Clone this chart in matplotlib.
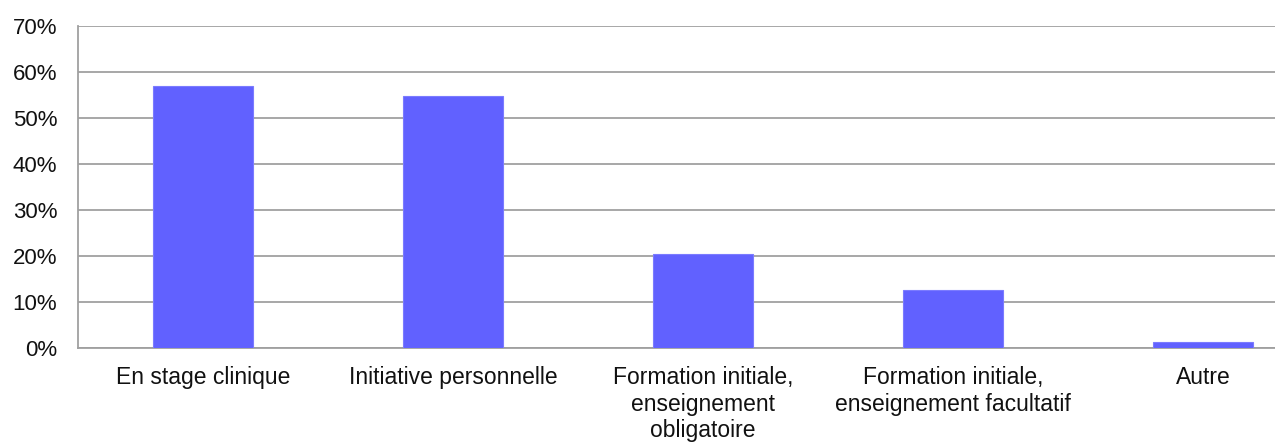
import matplotlib
matplotlib.use("Agg")
import matplotlib.pyplot as plt
from matplotlib.ticker import FuncFormatter

categories = ["En stage clinique", "Initiative personnelle",
              "Formation initiale,\nenseignement\nobligatoire",
              "Formation initiale,\nenseignement facultatif", "Autre"]
values = [57.0, 54.8, 20.4, 12.6, 1.3]
yticks = [0, 10, 20, 30, 40, 50, 60, 70]

plt.rcParams['font.family'] = ['Liberation Sans', 'DejaVu Sans']

fig = plt.figure(figsize=(12.75, 4.43), dpi=100)
ax = fig.add_axes([78/1275, 1-348/443, 1-78/1275, (348-26)/443])

x = list(range(len(categories)))
ax.bar(x, values, width=0.4, color='#6161ff', edgecolor='#7b7bff', linewidth=0.8, zorder=3)

ax.set_ylim(0, 70)
ax.set_xlim(-0.5, (1275-78)/250 - 0.5)
ax.set_yticks(yticks)
ax.yaxis.set_major_formatter(FuncFormatter(lambda v, p: f"{int(v)}%"))
ax.grid(axis='y', color='#a0a0a0', linewidth=1.3, zorder=0)
ax.set_xticks(x)
ax.set_xticklabels(categories, linespacing=1.2)
ax.tick_params(axis='both', length=0, colors='#111111')
ax.tick_params(axis='y', pad=15, labelsize=16)
ax.tick_params(axis='x', pad=13, labelsize=16.5)
for s in ['top', 'right']:
    ax.spines[s].set_visible(False)
for s in ['left', 'bottom']:
    ax.spines[s].set_color('#a0a0a0')
    ax.spines[s].set_linewidth(1.3)

fig.savefig("out.png", dpi=100)
